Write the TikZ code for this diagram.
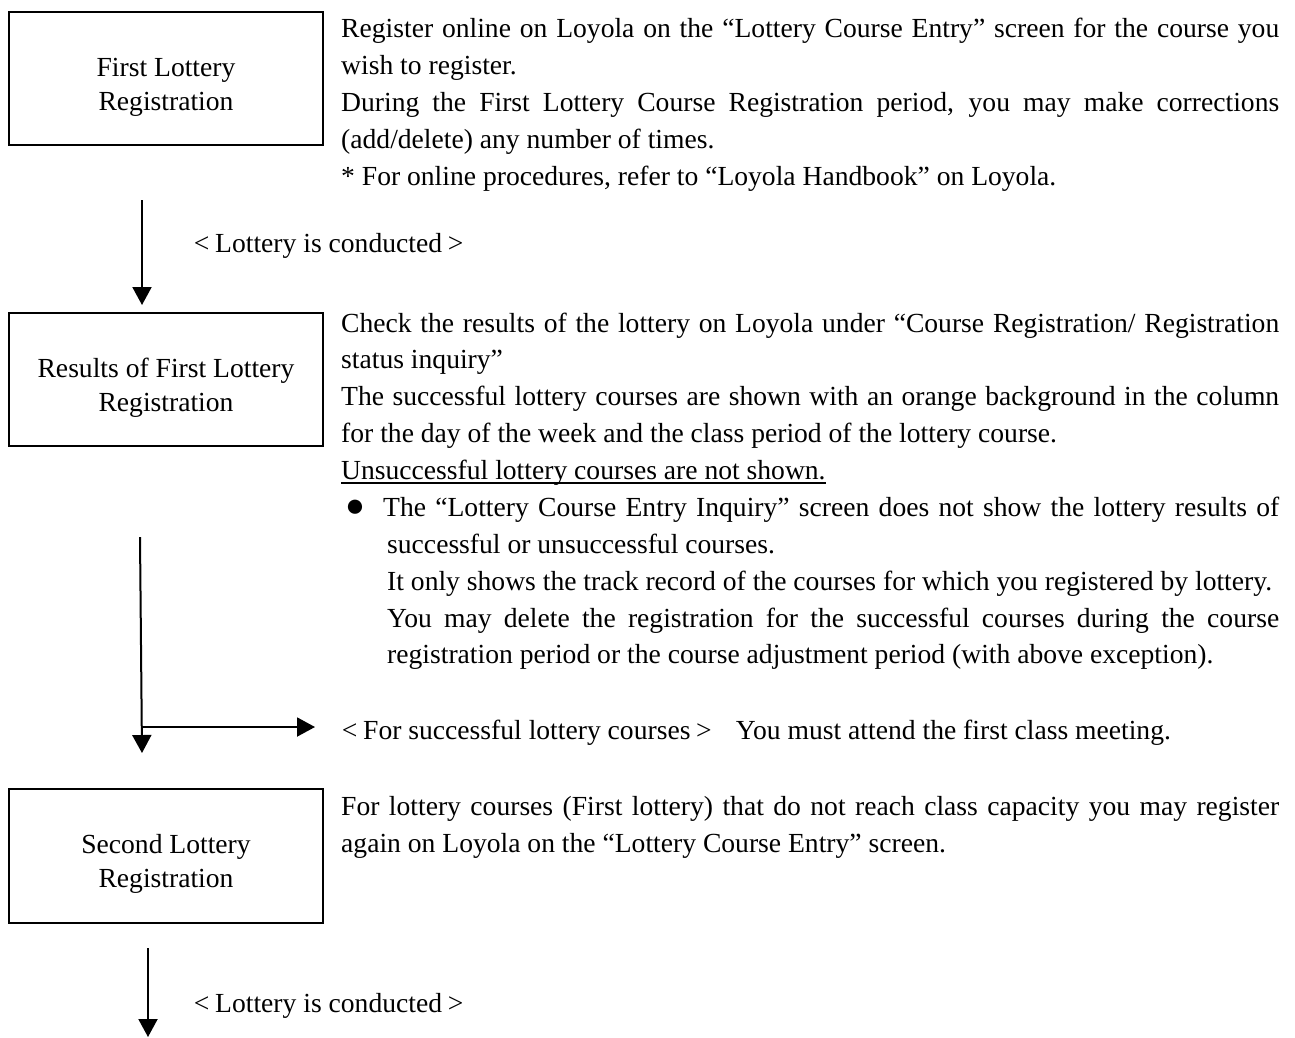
\documentclass[tikz,border=0pt]{standalone}
\usepackage{fontspec}
\setmainfont{Liberation Serif}
\usetikzlibrary{arrows.meta}
\newcommand\myfs{\fontsize{27.6}{36.8}\selectfont}
\newcommand\jfull[1]{\makebox[938pt][s]{#1}}
\newcommand\jbul[1]{\makebox[896pt][s]{#1}}
\newcommand\jind[1]{\makebox[892pt][s]{#1}}
\newcommand\lbr{\makebox[27pt]{<}}
\newcommand\rbr{\makebox[27pt]{>}}
\begin{document}
\begin{tikzpicture}[x=1pt,y=-1pt,
  box/.style={draw,line width=2pt,minimum width=314pt,inner sep=0pt},
  arr/.style={line width=2pt,-{Triangle[length=18pt,width=19pt]}},
  txt/.style={anchor=base west,inner sep=0pt,font=\myfs},
  ctxt/.style={anchor=base,inner sep=0pt,font=\myfs}]
\useasboundingbox[fill=white] (0,0) rectangle (1295,1037);

% boxes
\node[box,minimum height=133pt] (b1) at (166,78.5) {};
\node[ctxt] (b1a) at (166,76) {First Lottery};
\node[ctxt] (b1b) at (166,110) {Registration};

\node[box,minimum height=133pt] (b2) at (166,379.5) {};
\node[ctxt] (b2a) at (166,377) {Results of First Lottery};
\node[ctxt] (b2b) at (166,411) {Registration};

\node[box,minimum height=134pt] (b3) at (166,856) {};
\node[ctxt] (b3a) at (166,853) {Second Lottery};
\node[ctxt] (b3b) at (166,887) {Registration};

% arrows
\coordinate (a1s) at (142,200);
\coordinate (a1e) at (142,305);
\draw[arr] (a1s) -- (a1e);
\coordinate (a2s) at (140,537);
\coordinate (a2e) at (142,753);
\coordinate (a2m) at (141.8,727);
\coordinate (a2r) at (315,727);
\draw[arr] (a2s) -- (a2e);
\draw[arr] (a2m) -- (a2r);
\coordinate (a3s) at (148,948);
\coordinate (a3e) at (148,1037);
\draw[arr] (a3s) -- (a3e);

% top block
\node[txt] (t1) at (341,37) {\jfull{Register online on Loyola on the “Lottery Course Entry” screen for the course you}};
\node[txt] (t2) at (341,74) {wish to register.};
\node[txt] (t3) at (341,111) {\jfull{During the First Lottery Course Registration period, you may make corrections}};
\node[txt] (t4) at (341,148) {(add/delete) any number of times.};
\node[txt] (t5) at (341,185) {* For online procedures, refer to “Loyola Handbook” on Loyola.};

\node[txt] (c1) at (188,252) {\lbr Lottery is conducted\rbr};

% second block
\node[txt] (s1) at (341,332) {\jfull{Check the results of the lottery on Loyola under “Course Registration/ Registration}};
\node[txt] (s2) at (341,368) {status inquiry”};
\node[txt] (s3) at (341,405) {\jfull{The successful lottery courses are shown with an orange background in the column}};
\node[txt] (s4) at (341,442) {for the day of the week and the class period of the lottery course.};
\node[txt] (s5) at (341,479) {Unsuccessful lottery courses are not shown.};
\draw[line width=1.5pt] ([yshift=-4pt]s5.base west) -- ([yshift=-4pt]s5.base east);
\node[txt] (bul) at (345,516) {{\fontsize{33}{33}\selectfont ●}};
\node[txt] (s6) at (383,516) {\jbul{The “Lottery Course Entry Inquiry” screen does not show the lottery results of}};
\node[txt] (s7) at (387,553) {successful or unsuccessful courses.};
\node[txt] (s8) at (387,590) {It only shows the track record of the courses for which you registered by lottery.};
\node[txt] (s9) at (387,627) {\jind{You may delete the registration for the successful courses during the course}};
\node[txt] (s10) at (387,663) {registration period or the course adjustment period (with above exception).};

\node[txt] (f1) at (336,739) {\lbr For successful lottery courses\rbr\hspace{18.5pt}You must attend the first class meeting.};

% third block
\node[txt] (r1) at (341,815) {\jfull{For lottery courses (First lottery) that do not reach class capacity you may register}};
\node[txt] (r2) at (341,852) {again on Loyola on the “Lottery Course Entry” screen.};

\node[txt] (c2) at (188,1012) {\lbr Lottery is conducted\rbr};
\end{tikzpicture}
\end{document}
